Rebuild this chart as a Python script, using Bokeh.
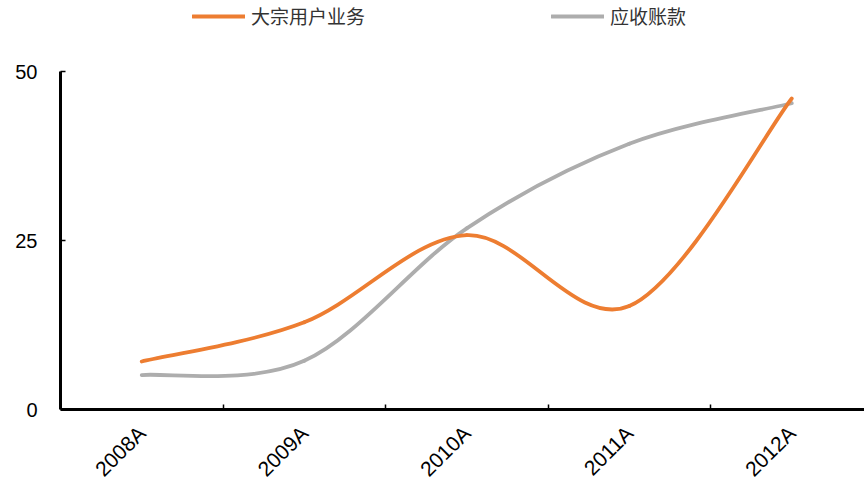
import math

from bokeh.plotting import figure
from bokeh.models import ColumnDataSource, FixedTicker, Legend, LegendItem, Range1d
from bokeh.embed import file_html
from bokeh.resources import INLINE

categories = ["2008A", "2009A", "2010A", "2011A", "2012A"]
bulk_users = [7.1, 12.9, 25.8, 15.3, 46.0]      # 大宗用户业务
receivables = [5.1, 7.2, 26.8, 39.3, 45.3]      # 应收账款
y_ticks = [0, 25, 50]

ORANGE = "#ED7D31"
GREY = "#ADADAD"
NUM_FONT = "Liberation Sans"
CJK_FONT = "Noto Sans CJK SC"

W, H = 864, 482
AX_LEFT, AX_TOP, AX_BOTTOM = 60, 71, 409          # pixel box of the value area
CAT_W = 162.5                                     # pixels per category
Y_MAX = 50
PX_PER_UNIT = (AX_BOTTOM - AX_TOP) / Y_MAX


def smooth_segments(xs, ys):
    """Cubic Bezier pieces through the points (Catmull-Rom tangents, ends clamped)."""
    px = [xs[0]] + list(xs) + [xs[-1]]
    py = [ys[0]] + list(ys) + [ys[-1]]
    seg = {k: [] for k in ("x0", "y0", "x1", "y1", "cx0", "cy0", "cx1", "cy1")}
    for j in range(len(xs) - 1):
        a, b = j + 1, j + 2
        seg["x0"].append(px[a]); seg["y0"].append(py[a])
        seg["x1"].append(px[b]); seg["y1"].append(py[b])
        seg["cx0"].append(px[a] + (px[b] - px[a - 1]) / 6)
        seg["cy0"].append(py[a] + (py[b] - py[a - 1]) / 6)
        seg["cx1"].append(px[b] - (px[b + 1] - px[a]) / 6)
        seg["cy1"].append(py[b] - (py[b + 1] - py[a]) / 6)
    return ColumnDataSource(seg)


x_pos = [i + 0.5 for i in range(len(categories))]
x_end = (W - AX_LEFT) / CAT_W

p = figure(
    width=W, height=H,
    x_range=Range1d(-AX_LEFT / CAT_W, x_end),
    y_range=Range1d(-(H - AX_BOTTOM) / PX_PER_UNIT, AX_BOTTOM / PX_PER_UNIT),
    output_backend="svg", toolbar_location=None,
    min_border=0,
)
p.outline_line_color = None
p.xgrid.visible = False
p.ygrid.visible = False
p.background_fill_color = "white"
p.border_fill_color = "white"

r_grey = p.bezier(x0="x0", y0="y0", x1="x1", y1="y1", cx0="cx0", cy0="cy0",
                  cx1="cx1", cy1="cy1", source=smooth_segments(x_pos, receivables),
                  line_color=GREY, line_width=3.8, line_cap="round")
r_orange = p.bezier(x0="x0", y0="y0", x1="x1", y1="y1", cx0="cx0", cy0="cy0",
                    cx1="cx1", cy1="cy1", source=smooth_segments(x_pos, bulk_users),
                    line_color=ORANGE, line_width=3.8, line_cap="round")

# y axis, pinned at x = 0 and limited to the value range
ya = p.yaxis[0]
ya.fixed_location = 0
ya.bounds = (0, Y_MAX)
ya.ticker = FixedTicker(ticks=y_ticks)
ya.axis_line_width = 3
ya.axis_line_color = "black"
ya.major_tick_in = 5
ya.major_tick_out = 0
ya.major_tick_line_width = 1.5
ya.minor_tick_line_color = None
ya.major_label_standoff = 23
ya.major_label_text_font = NUM_FONT
ya.major_label_text_font_size = "20px"
ya.major_label_text_color = "black"

# x axis, pinned at y = 0: names at category centres, tick marks between them
xa = p.xaxis[0]
xa.fixed_location = 0
xa.bounds = (0, x_end)
xa.ticker = FixedTicker(ticks=x_pos, minor_ticks=[1, 2, 3, 4])
xa.major_label_overrides = {x: c for x, c in zip(x_pos, categories)}
xa.axis_line_width = 3
xa.axis_line_color = "black"
xa.major_tick_in = 0
xa.major_tick_out = 0
xa.minor_tick_in = 5
xa.minor_tick_out = 0
xa.minor_tick_line_width = 1.5
xa.minor_tick_line_color = "black"
xa.major_label_orientation = math.pi / 4
xa.major_label_standoff = 20
xa.major_label_text_font = NUM_FONT
xa.major_label_text_font_size = "21px"
xa.major_label_text_color = "black"

legend = Legend(
    items=[LegendItem(label="大宗用户业务", renderers=[r_orange]),
           LegendItem(label="应收账款", renderers=[r_grey])],
    orientation="horizontal",
    location=(192, H - 9 - 20),
    glyph_width=53, glyph_height=20,
    label_height=20, label_standoff=6, spacing=186,
    padding=0, margin=0,
    border_line_color=None, background_fill_alpha=0,
    label_text_font=CJK_FONT, label_text_font_size="19px",
    label_text_color="#333333",
)
p.add_layout(legend)

open("out.html", "w").write(file_html(p, INLINE))
